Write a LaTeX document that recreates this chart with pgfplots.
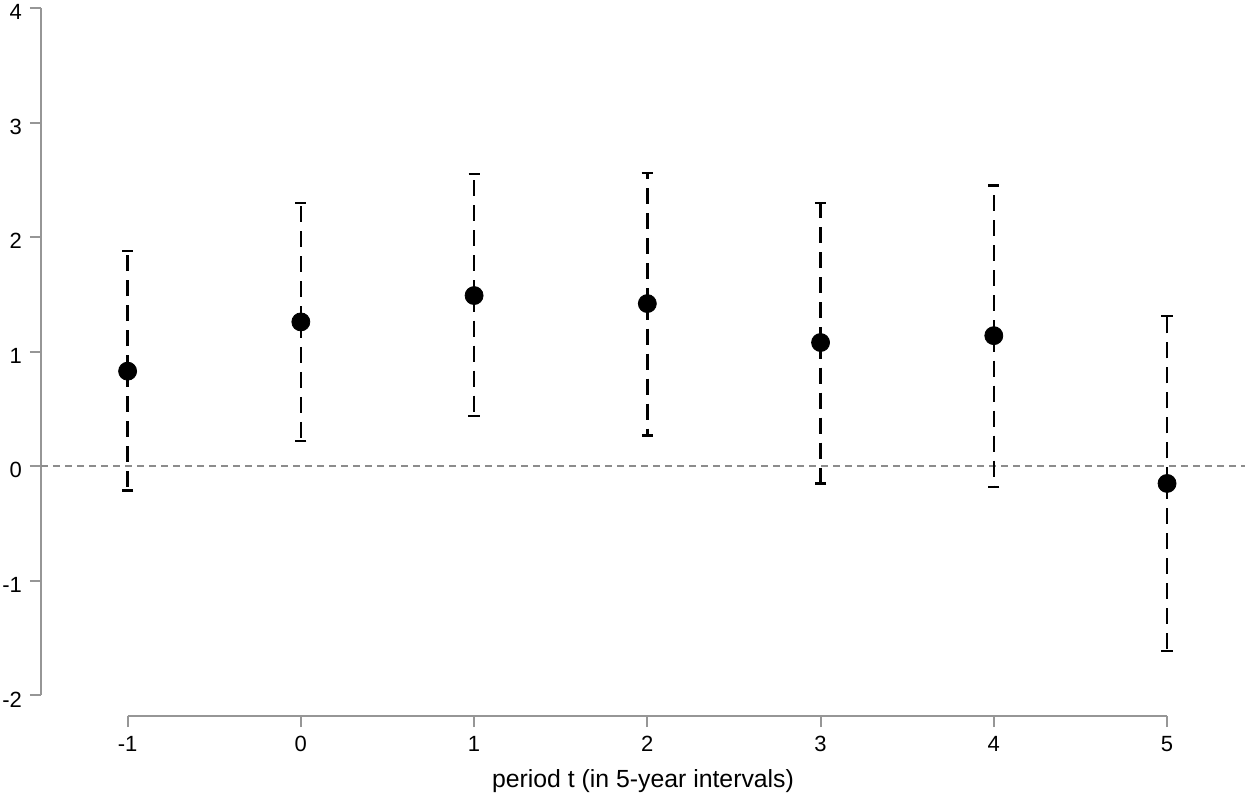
\documentclass[border=0pt]{standalone}
\usepackage{fontspec}
\setmainfont{Liberation Sans}
\usepackage{pgfplots}
\pgfplotsset{compat=1.18}
\usepackage{pgfplotstable}
\definecolor{axgray}{RGB}{150,150,150}
\definecolor{zerogray}{RGB}{140,140,140}

% period, estimate, upper and lower distance to the CI bounds
\pgfplotstableread{
t    b      ep    em
-1   0.83   1.05  1.04
0    1.26   1.04  1.04
1    1.49   1.06  1.05
2    1.42   1.14  1.15
3    1.08   1.22  1.23
4    1.14   1.31  1.32
5   -0.15   1.46  1.46
}\coefs

\begin{document}
\begin{tikzpicture}
\begin{axis}[
    name=ax,
    scale only axis,
    width=602pt, height=354pt,
    xmin=-1.5, xmax=5.45,
    ymin=-2.18, ymax=4,
    clip=false,
    axis x line*=bottom, axis y line*=left,
    axis line style={draw=none},
    xtick={-1,0,...,5}, ytick={-2,-1,...,4},
    tick align=outside,
    major tick length=5.5pt,
    tick style={axgray, line width=1pt},
    /pgf/number format/assume math mode=true,
    ticklabel style={font=\fontsize{11}{13}\selectfont},
    xticklabel style={yshift=-1pt},
    yticklabel style={xshift=-0.5pt, yshift=-2pt},
    xlabel={period t (in 5-year intervals)},
    xlabel style={font=\fontsize{12.4}{14}\selectfont, yshift=-2pt},
]
% axis lines as in the original (only over the tick range)
\draw[axgray, line width=1pt] (axis cs:-1,-2.18) -- (axis cs:5,-2.18);
\draw[axgray, line width=1pt] (axis cs:-1.5,-2) -- (axis cs:-1.5,4);
% reference line at zero
\draw[zerogray, line width=0.8pt, dash pattern=on 3.5pt off 2.5pt]
    (axis cs:-1.5,0) -- (axis cs:5.45,0);
\addplot[
    only marks, black, mark=*, mark size=4.5pt,
    error bars/.cd,
        y dir=both, y explicit,
        error bar style={black, line width=1.2pt, dash pattern=on 8pt off 4.5pt},
        error mark options={solid, black, line width=1.2pt, mark size=2.8pt, rotate=90},
] table[x=t, y=b, y error plus=ep, y error minus=em] {\coefs};
\end{axis}
\pgfresetboundingbox
\useasboundingbox ([shift={(-20.5pt,-41.5pt)}]ax.south west) rectangle ([shift={(2.5pt,4pt)}]ax.north east);
\end{tikzpicture}
\end{document}
